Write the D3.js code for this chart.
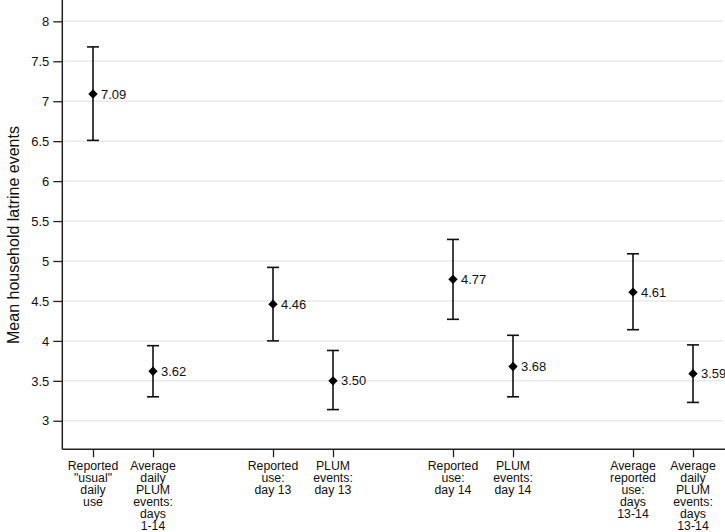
<!DOCTYPE html>
<html>
<head>
<meta charset="utf-8">
<script src="https://cdn.jsdelivr.net/npm/d3@7"></script>
<style>
  html, body { margin: 0; padding: 0; background: #fff; }
  svg { display: block; font-family: "Liberation Sans", Arial, Helvetica, sans-serif; }
</style>
</head>
<body>
<svg id="chart" width="725" height="532"></svg>
<script>
// ---- data ----
const positions = [1, 2, 4, 5, 7, 8, 10, 11];
const categoryLabels = [
  ["Reported", "\"usual\"", "daily", "use"],
  ["Average", "daily", "PLUM", "events:", "days", "1-14"],
  ["Reported", "use:", "day 13"],
  ["PLUM", "events:", "day 13"],
  ["Reported", "use:", "day 14"],
  ["PLUM", "events:", "day 14"],
  ["Average", "reported", "use:", "days", "13-14"],
  ["Average", "daily", "PLUM", "events:", "days", "13-14"]
];
const means = [7.09, 3.62, 4.46, 3.50, 4.77, 3.68, 4.61, 3.59];
const lower = [6.51, 3.30, 4.00, 3.14, 4.27, 3.30, 4.14, 3.23];
const upper = [7.68, 3.94, 4.92, 3.88, 5.27, 4.07, 5.09, 3.95];
const yTicks = [3, 3.5, 4, 4.5, 5, 5.5, 6, 6.5, 7, 7.5, 8];
const yTitle = "Mean household latrine events";

// ---- layout ----
const svg = d3.select("#chart");
const x = d3.scaleLinear().domain([0.5, 11.5]).range([63, 723]);
const y = d3.scaleLinear().domain([2.643, 8.267]).range([449.3, 0]);

// gridlines
svg.append("g").selectAll("line").data(yTicks).join("line")
  .attr("x1", 63).attr("x2", 723)
  .attr("y1", d => y(d)).attr("y2", d => y(d))
  .attr("stroke", "#eaeaea").attr("stroke-width", 1.5);

// y axis
const yAxis = d3.axisLeft(y).tickValues(yTicks).tickSize(9).tickPadding(4)
  .tickFormat(d => String(d));
const gy = svg.append("g").attr("transform", "translate(62.3,0)").call(yAxis);
gy.select(".domain").attr("d", "M0,0V449.3").attr("stroke", "#222").attr("stroke-width", 1.5);
gy.selectAll(".tick line").attr("stroke", "#222").attr("stroke-width", 1.3);
gy.selectAll(".tick text").attr("font-size", 13).attr("fill", "#111")
  .attr("font-family", "'Liberation Sans', Arial, sans-serif");

// x axis
const xAxis = d3.axisBottom(x).tickValues(positions).tickSize(8).tickFormat("");
const gx = svg.append("g").attr("transform", "translate(0,449.3)").call(xAxis);
gx.select(".domain").attr("d", "M62.3,0H725").attr("stroke", "#222").attr("stroke-width", 1.5);
gx.selectAll(".tick line").attr("stroke", "#222").attr("stroke-width", 1.3);

// x labels
const lab = svg.append("g");
positions.forEach((p, i) => {
  const t = lab.append("text")
    .attr("x", x(p)).attr("y", 470)
    .attr("text-anchor", "middle")
    .attr("font-size", 12.3).attr("fill", "#111");
  categoryLabels[i].forEach((line, j) => {
    t.append("tspan").attr("x", x(p)).attr("dy", j === 0 ? 0 : 12).text(line);
  });
});

// error bars
const eb = svg.append("g").attr("stroke", "#111").attr("stroke-width", 1.6);
positions.forEach((p, i) => {
  const cx = x(p);
  eb.append("line").attr("x1", cx).attr("x2", cx).attr("y1", y(upper[i])).attr("y2", y(lower[i]));
  eb.append("line").attr("x1", cx - 6).attr("x2", cx + 6).attr("y1", y(upper[i])).attr("y2", y(upper[i]));
  eb.append("line").attr("x1", cx - 6).attr("x2", cx + 6).attr("y1", y(lower[i])).attr("y2", y(lower[i]));
});

// diamonds
const diamond = d3.symbol().type(d3.symbolSquare).size(44);
svg.append("g").selectAll("path").data(means).join("path")
  .attr("d", diamond)
  .attr("transform", (d, i) => `translate(${x(positions[i])},${y(d)}) rotate(45)`)
  .attr("fill", "#000");

// value labels
svg.append("g").selectAll("text").data(means).join("text")
  .attr("x", (d, i) => x(positions[i]) + 8)
  .attr("y", d => y(d))
  .attr("dy", "0.35em")
  .attr("font-size", 13).attr("fill", "#111")
  .text(d => d.toFixed(2));

// y title
svg.append("text")
  .attr("transform", "translate(19,235) rotate(-90)")
  .attr("text-anchor", "middle")
  .attr("font-size", 16).attr("fill", "#111")
  .text(yTitle);
</script>
</body>
</html>
